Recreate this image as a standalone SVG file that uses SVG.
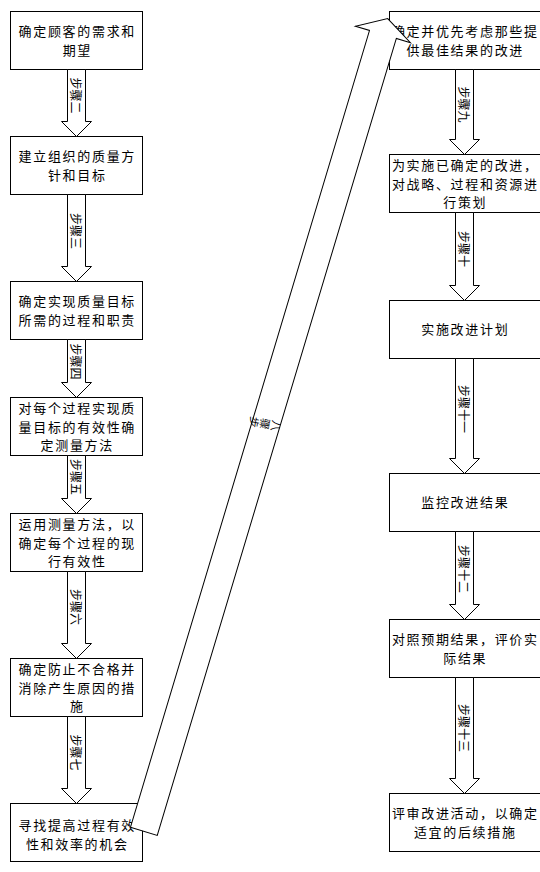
<svg xmlns="http://www.w3.org/2000/svg" width="540" height="872" viewBox="0 0 540 872">
<style>
.box{fill:#fff;stroke:#000;stroke-width:1}
.arr{fill:#fff;stroke:#000;stroke-width:1;stroke-linejoin:miter}
.t{font-family:"Noto Sans CJK SC","Noto Sans CJK JP",sans-serif;font-size:13px;letter-spacing:1.67px;fill:#000;text-anchor:middle;dominant-baseline:central}
.lb{font-family:"Noto Sans CJK SC","Noto Sans CJK JP",sans-serif;font-size:12px;fill:#000;text-anchor:middle;dominant-baseline:central}
.dl{font-family:"Noto Sans CJK SC","Noto Sans CJK JP",sans-serif;font-size:11px;fill:#000}
</style>
<rect width="540" height="872" fill="#fff"/>
<g id="nodes">
<g id="n1"><rect class="box" x="10.5" y="11.5" width="132" height="58"/><text class="t"><tspan x="77.3" y="30">确定顾客的需求和</tspan><tspan x="77.3" y="49">期望</tspan></text></g>
<g id="n2"><rect class="box" x="10.5" y="136.5" width="132" height="58"/><text class="t"><tspan x="77.3" y="155">建立组织的质量方</tspan><tspan x="77.3" y="174">针和目标</tspan></text></g>
<g id="n3"><rect class="box" x="10.5" y="281.5" width="132" height="58"/><text class="t"><tspan x="77.3" y="300">确定实现质量目标</tspan><tspan x="77.3" y="319">所需的过程和职责</tspan></text></g>
<g id="n4"><rect class="box" x="10.5" y="397.5" width="132" height="58"/><text class="t"><tspan x="77.3" y="406.6">对每个过程实现质</tspan><tspan x="77.3" y="425.5">量目标的有效性确</tspan><tspan x="77.3" y="444.4">定测量方法</tspan></text></g>
<g id="n5"><rect class="box" x="10.5" y="513.5" width="132" height="58"/><text class="t"><tspan x="77.3" y="522.6">运用测量方法，以</tspan><tspan x="77.3" y="541.5">确定每个过程的现</tspan><tspan x="77.3" y="560.4">行有效性</tspan></text></g>
<g id="n6"><rect class="box" x="10.5" y="658.5" width="132" height="58"/><text class="t"><tspan x="77.3" y="667.6">确定防止不合格并</tspan><tspan x="77.3" y="686.5">消除产生原因的措</tspan><tspan x="77.3" y="705.4">施</tspan></text></g>
<g id="n7"><rect class="box" x="10.5" y="803.5" width="132" height="58"/><text class="t"><tspan x="77.3" y="823.5">寻找提高过程有效</tspan><tspan x="77.3" y="842.5">性和效率的机会</tspan></text></g>
<g id="n8"><rect class="box" x="389.5" y="11.5" width="152" height="58"/><text class="t"><tspan x="465.3" y="30">确定并优先考虑那些提</tspan><tspan x="465.3" y="49">供最佳结果的改进</tspan></text></g>
<g id="n9"><rect class="box" x="389.5" y="154.5" width="152" height="58"/><text class="t"><tspan x="465.3" y="163.6">为实施已确定的改进，</tspan><tspan x="465.3" y="182.5">对战略、过程和资源进</tspan><tspan x="465.3" y="201.4">行策划</tspan></text></g>
<g id="n10"><rect class="box" x="389.5" y="300.5" width="152" height="58"/><text class="t" x="465.3" y="328.5">实施改进计划</text></g>
<g id="n11"><rect class="box" x="389.5" y="473.5" width="152" height="58"/><text class="t" x="465.3" y="501.5">监控改进结果</text></g>
<g id="n12"><rect class="box" x="389.5" y="619.5" width="152" height="58"/><text class="t"><tspan x="465.3" y="638">对照预期结果，评价实</tspan><tspan x="465.3" y="657">际结果</tspan></text></g>
<g id="n13"><rect class="box" x="389.5" y="793.5" width="152" height="58"/><text class="t"><tspan x="465.3" y="812">评审改进活动，以确定</tspan><tspan x="465.3" y="831">适宜的后续措施</tspan></text></g>
</g>
<g id="connectors">
<g id="e1"><path class="arr" d="M67.5,69.5 V121.5 H61.5 L76.5,136.5 L91.5,121.5 H85.5 V69.5 Z"/><text class="lb" transform="translate(76.5,95.5) rotate(90)">步骤二</text></g>
<g id="e2"><path class="arr" d="M67.5,194.5 V266.5 H61.5 L76.5,281.5 L91.5,266.5 H85.5 V194.5 Z"/><text class="lb" transform="translate(76.5,231) rotate(90)">步骤三</text></g>
<g id="e3"><path class="arr" d="M67.5,339.5 V382.5 H61.5 L76.5,397.5 L91.5,382.5 H85.5 V339.5 Z"/><text class="lb" transform="translate(76.5,361.5) rotate(90)">步骤四</text></g>
<g id="e4"><path class="arr" d="M67.5,455.5 V498.5 H61.5 L76.5,513.5 L91.5,498.5 H85.5 V455.5 Z"/><text class="lb" transform="translate(76.5,477) rotate(90)">步骤五</text></g>
<g id="e5"><path class="arr" d="M67.5,571.5 V643.5 H61.5 L76.5,658.5 L91.5,643.5 H85.5 V571.5 Z"/><text class="lb" transform="translate(76.5,607) rotate(90)">步骤六</text></g>
<g id="e6"><path class="arr" d="M67.5,716.5 V788.5 H61.5 L76.5,803.5 L91.5,788.5 H85.5 V716.5 Z"/><text class="lb" transform="translate(76.5,752.5) rotate(90)">步骤七</text></g>
<g id="e7"><path class="arr" transform="translate(143.85,831.35) rotate(16.7)" d="M-14,0 L14,0 L14,-832 L28.7,-832 L0,-848.6 L-28.7,-832 L-14,-832 Z"/><text class="dl" transform="translate(265,424) rotate(10)" x="-15.2 -4.2 6.8" y="-5.5" rotate="90">步骤八</text></g>
<g id="e8"><path class="arr" d="M455.5,69.5 V139.5 H449.5 L464.5,154.5 L479.5,139.5 H473.5 V69.5 Z"/><text class="lb" transform="translate(464.5,104.5) rotate(90)">步骤九</text></g>
<g id="e9"><path class="arr" d="M455.5,212.5 V285.5 H449.5 L464.5,300.5 L479.5,285.5 H473.5 V212.5 Z"/><text class="lb" transform="translate(464.5,249) rotate(90)">步骤十</text></g>
<g id="e10"><path class="arr" d="M455.5,358.5 V458.5 H449.5 L464.5,473.5 L479.5,458.5 H473.5 V358.5 Z"/><text class="lb" transform="translate(464.5,409) rotate(90)">步骤十一</text></g>
<g id="e11"><path class="arr" d="M455.5,531.5 V604.5 H449.5 L464.5,619.5 L479.5,604.5 H473.5 V531.5 Z"/><text class="lb" transform="translate(464.5,569) rotate(90)">步骤十二</text></g>
<g id="e12"><path class="arr" d="M455.5,677.5 V778.5 H449.5 L464.5,793.5 L479.5,778.5 H473.5 V677.5 Z"/><text class="lb" transform="translate(464.5,728) rotate(90)">步骤十三</text></g>
</g>
</svg>
